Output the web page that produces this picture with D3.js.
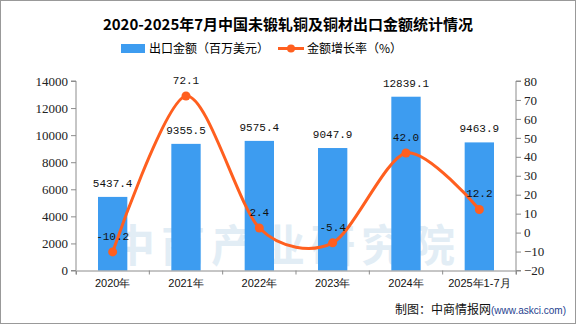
<!DOCTYPE html>
<html>
<head>
<meta charset="utf-8">
<script src="https://cdn.jsdelivr.net/npm/d3@7"></script>
<style>
  body { margin: 0; background: #fff; }
  svg { display: block; font-family: "Noto Sans CJK SC", sans-serif; }
</style>
</head>
<body>
<div id="chart"></div>
<script>
// Data
const categories = ['2020年', '2021年', '2022年', '2023年', '2024年', '2025年1-7月'];
const exportValues = [5437.4, 9355.5, 9575.4, 9047.9, 12839.1, 9463.9];
const growthRates = [-10.2, 72.1, 2.4, -5.4, 42.0, 12.2];
const leftTicks = [0, 2000, 4000, 6000, 8000, 10000, 12000, 14000];
const rightTicks = [-20, -10, 0, 10, 20, 30, 40, 50, 60, 70, 80];

const W = 576, H = 324;
const margin = { top: 81, right: 60, bottom: 53.5, left: 76 };
const width = W - margin.left - margin.right;
const height = H - margin.top - margin.bottom;

const barColor = '#3d9cf0';
const lineColor = '#ff5f1f';
const axisColor = '#8c8c8c';

const root = d3.select('#chart').append('svg')
    .attr('width', W)
    .attr('height', H);

// Outer frame
root.append('rect')
    .attr('x', 0.5).attr('y', 0.5)
    .attr('width', W - 1).attr('height', H - 1)
    .attr('fill', '#fff')
    .attr('stroke', '#999');

// Title
root.append('text')
    .attr('x', W / 2).attr('y', 30)
    .attr('text-anchor', 'middle')
    .style('font-size', '15px')
    .style('font-weight', 'bold')
    .style('font-family', '"Noto Sans CJK SC", serif')
    .text('2020-2025年7月中国未锻轧铜及铜材出口金额统计情况');

// Legend
const legend = root.append('g').style('font-size', '12px');
legend.append('rect')
    .attr('x', 121).attr('y', 44)
    .attr('width', 24).attr('height', 9)
    .attr('fill', barColor);
legend.append('text')
    .attr('x', 149).attr('y', 52.5)
    .text('出口金额（百万美元）');
legend.append('line')
    .attr('x1', 278).attr('x2', 304)
    .attr('y1', 48.5).attr('y2', 48.5)
    .attr('stroke', lineColor)
    .attr('stroke-width', 3);
legend.append('circle')
    .attr('cx', 291).attr('cy', 48.5).attr('r', 4)
    .attr('fill', lineColor);
legend.append('text')
    .attr('x', 307).attr('y', 52.5)
    .text('金额增长率（%）');

const svg = root.append('g')
    .attr('transform', `translate(${margin.left},${margin.top})`);

// Scales
const x = d3.scaleBand()
    .domain(categories)
    .range([0, width])
    .paddingInner(0.6)
    .paddingOuter(0.3);

const xBand = d3.scaleBand()
    .domain(categories)
    .range([0, width]);

const yLeft = d3.scaleLinear()
    .domain([0, 14000])
    .range([height, 0]);

const yRight = d3.scaleLinear()
    .domain([-20, 80])
    .range([height, 0]);

// Watermark
svg.append('text')
    .attr('x', width / 2 - 10).attr('y', height - 9)
    .attr('text-anchor', 'middle')
    .style('font-size', '44px')
    .style('font-weight', 'bold')
    .style('letter-spacing', '6px')
    .attr('fill', '#7fb0d4')
    .attr('opacity', 0.22)
    .text('中商产业研究院');

// Bars
svg.selectAll('.bar')
    .data(exportValues)
    .enter().append('rect')
    .attr('class', 'bar')
    .attr('x', (d, i) => x(categories[i]))
    .attr('y', d => yLeft(d))
    .attr('width', x.bandwidth())
    .attr('height', d => height - yLeft(d))
    .attr('fill', barColor);

// Left axis
const axisL = svg.append('g')
    .call(d3.axisLeft(yLeft).tickValues(leftTicks).tickSize(5).tickFormat(d3.format('d')));
// Right axis
const axisR = svg.append('g')
    .attr('transform', `translate(${width},0)`)
    .call(d3.axisRight(yRight).tickValues(rightTicks).tickSize(5));
// Bottom axis
const axisB = svg.append('g')
    .attr('transform', `translate(0,${height})`)
    .call(d3.axisBottom(xBand).tickSize(4).tickSizeOuter(4));

[axisL, axisR].forEach(a => {
    a.selectAll('path, line').attr('stroke', axisColor);
    a.selectAll('text')
        .style('font-family', '"Liberation Serif", serif')
        .style('font-size', '13px')
        .attr('fill', '#222');
});
axisL.select('.domain').attr('d', `M-5,${height}H0V0H-5`);
axisR.select('.domain').attr('d', `M5,${height}H0V0H5`);

axisB.selectAll('path, line').attr('stroke', axisColor);
axisB.selectAll('.tick line').attr('transform', `translate(${xBand.bandwidth() / 2},0)`);
axisB.selectAll('text')
    .attr('dy', '0.9em')
    .style('font-size', '11px')
    .attr('fill', '#111');
// Extra tick at the left end of bottom axis
axisB.append('line')
    .attr('x1', 0).attr('x2', 0).attr('y1', 0).attr('y2', 4)
    .attr('stroke', axisColor);

// Bar value labels
svg.selectAll('.bar-label')
    .data(exportValues)
    .enter().append('text')
    .attr('class', 'bar-label')
    .attr('x', (d, i) => x(categories[i]) + x.bandwidth() / 2)
    .attr('y', d => yLeft(d) - 10)
    .attr('text-anchor', 'middle')
    .style('font-family', '"Liberation Mono", monospace')
    .style('font-size', '11px')
    .attr('fill', '#111')
    .text(d => d.toFixed(1));

// Growth line
const line = d3.line()
    .x((d, i) => xBand(categories[i]) + xBand.bandwidth() / 2)
    .y(d => yRight(d))
    .curve(d3.curveCardinal.tension(0.15));

svg.append('path')
    .datum(growthRates)
    .attr('d', line)
    .attr('fill', 'none')
    .attr('stroke', lineColor)
    .attr('stroke-width', 3);

svg.selectAll('.dot')
    .data(growthRates)
    .enter().append('circle')
    .attr('class', 'dot')
    .attr('cx', (d, i) => xBand(categories[i]) + xBand.bandwidth() / 2)
    .attr('cy', d => yRight(d))
    .attr('r', 4.5)
    .attr('fill', lineColor);

svg.selectAll('.line-label')
    .data(growthRates)
    .enter().append('text')
    .attr('class', 'line-label')
    .attr('x', (d, i) => xBand(categories[i]) + xBand.bandwidth() / 2)
    .attr('y', d => yRight(d) - 12)
    .attr('text-anchor', 'middle')
    .style('font-family', '"Liberation Mono", monospace')
    .style('font-size', '11px')
    .attr('fill', '#111')
    .text(d => d.toFixed(1));

// Source note
root.append('text')
    .attr('x', 566).attr('y', 314)
    .attr('text-anchor', 'end')
    .style('font-size', '12px')
    .attr('fill', '#111')
    .text('制图：中商情报网')
    .append('tspan')
    .style('font-size', '10px')
    .style('font-family', '"Liberation Sans", sans-serif')
    .attr('fill', '#1f3f8f')
    .text('(www.askci.com)');
</script>
</body>
</html>
